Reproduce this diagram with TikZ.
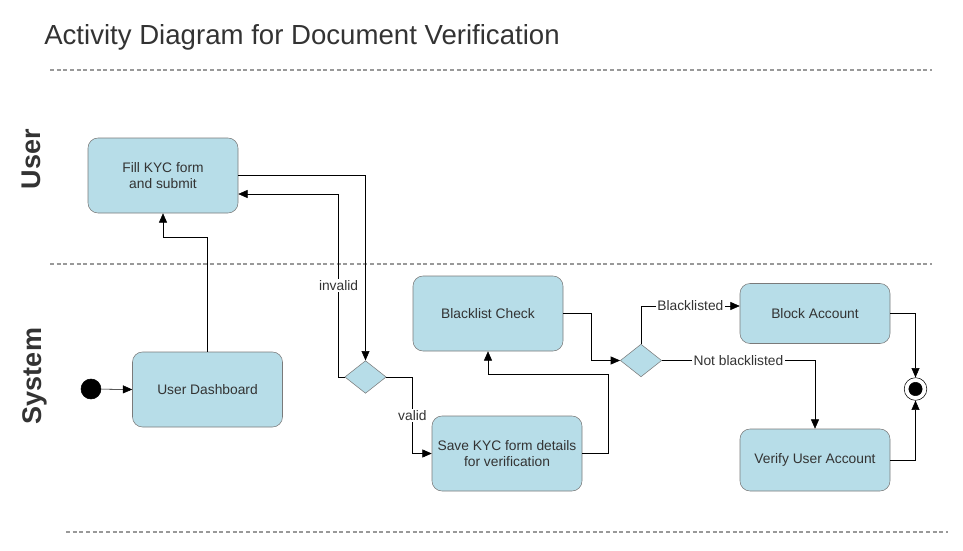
\documentclass[tikz,border=0pt]{standalone}
\usepackage{fontspec}
\setmainfont{Liberation Sans}
\usepackage{tikz}
\usetikzlibrary{shapes.geometric, arrows.meta, calc}

\definecolor{actfill}{HTML}{B7DDE8}
\definecolor{actdraw}{HTML}{7A7A7A}
\definecolor{txt}{HTML}{333333}
\definecolor{lane}{HTML}{999999}

\begin{document}
\begin{tikzpicture}[
    x=0.75pt, y=-0.75pt,
    act/.style={rectangle, rounded corners=7.5pt, draw=actdraw, fill=actfill, minimum width=112.5pt, minimum height=#1, align=center, text=txt, font=\fontsize{10.35}{12.4}\selectfont},
    act/.default=56.25pt,
    decision/.style={diamond, draw=actdraw, fill=actfill, minimum width=31pt, minimum height=24.5pt, inner sep=0pt},
    dot/.style={circle, fill=black, draw=black, minimum size=#1, inner sep=0pt},
    final/.style={circle, draw=black, fill=white, minimum size=17pt, inner sep=0pt},
    lbl/.style={fill=white, inner sep=1pt, text=txt, font=\fontsize{10.35}{12.4}\selectfont},
    lanename/.style={rotate=90, text=txt, font=\fontsize{20.25}{24}\selectfont\bfseries},
    sep/.style={draw=lane, dash pattern=on 3pt off 2pt, line width=0.9pt},
    arr/.style={-{Triangle[length=7pt, width=6pt]}, draw=black}
]
\useasboundingbox (0,0) rectangle (963,550);

% Title and lanes
\node[anchor=base west, inner sep=0pt, text=txt, font=\fontsize{20.7}{24}\selectfont] (title) at (44,44) {Activity Diagram for Document Verification};
\draw[sep] (50,70) -- (932,70);
\draw[sep] (50,264) -- (932,264);
\draw[sep] (66,532) -- (948,532);
\node[lanename] (user) at (31,159) {User};
\node[lanename] (system) at (35,376) {System};

% Activities
\node[act] (fill) at (163,175.5) {Fill KYC form\\and submit};
\node[act] (dash) at (207.5,389.5) {User Dashboard};
\node[act] (black) at (488,313.5) {Blacklist Check};
\node[act] (save) at (507,453.5) {Save KYC form details\\for verification};
\node[act=45pt] (block) at (815,313.5) {Block Account};
\node[act=46.5pt] (verify) at (815,460) {Verify User Account};

% Decisions, start and end
\node[decision] (d1) at (365.5,377) {};
\node[decision] (d2) at (641,360.5) {};
\node[dot=15pt] (start) at (91,389) {};
\node[final] (end) at (915.5,389) {};
\node[dot=10pt] (endin) at (end.center) {};

% Flows
\draw[arr] (start) -- (dash.west);
\draw[arr] (dash.north) -- ++(0,-114) -| (fill.south);
\draw[arr] (fill.east) -| (d1.north);
\draw[arr] (d1.west) -- ++(-6,0) |- node[pos=0.25, lbl] {invalid} ($(fill.east)+(0,18.5)$);
\draw[arr] (d1.east) -- ++(26,0) |- node[pos=0.25, lbl] {valid} (save.west);
\draw[arr] (save.east) -- ++(26,0) -- ++(0,-79.5) -| (black.south);
\draw[arr] (black.east) -- ++(28,0) |- (d2.west);
\draw[arr] (d2.north) |- node[pos=0.75, lbl] {Blacklisted} ($(block.west)+(0,-7.5)$);
\draw[arr] (d2.east) -| node[pos=0.25, lbl] {Not blacklisted} (verify.north);
\draw[arr] (block.east) -| (end.north);
\draw[arr] (verify.east) -| (end.south);

\end{tikzpicture}
\end{document}
